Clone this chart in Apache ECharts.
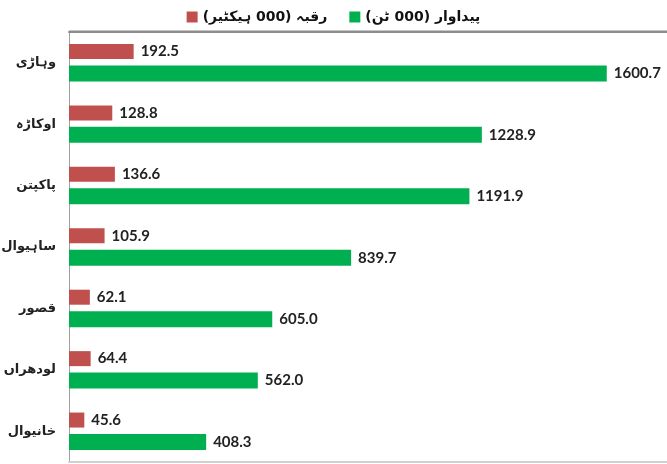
<!DOCTYPE html>
<html>
<head>
<meta charset="utf-8">
<script src="https://cdn.jsdelivr.net/npm/echarts@6/dist/echarts.min.js"></script>
<style>
  html, body { margin: 0; padding: 0; background: #fff; }
  #main { width: 667px; height: 464px; }
</style>
</head>
<body>
<div id="main"></div>
<script>
// اضلاع (اوپر سے نیچے)
var districts = ['وہاڑی', 'اوکاڑہ', 'پاکپتن', 'ساہیوال', 'قصور', 'لودھراں', 'خانیوال'];
var areaName = 'رقبہ (000 ہیکٹیر)';
var prodName = 'پیداوار (000 ٹن)';
var areaValues = [192.5, 128.8, 136.6, 105.9, 62.1, 64.4, 45.6];
var prodValues = [1600.7, 1228.9, 1191.9, 839.7, 605.0, 562.0, 408.3];

var chart = echarts.init(document.getElementById('main'));

var labelStyle = {
    show: true,
    position: 'right',
    distance: 7,
    color: '#222',
    fontFamily: 'Lato, "Open Sans", sans-serif',
    fontWeight: 'bold',
    fontSize: 15,
    formatter: function (p) { return p.value.toFixed(1); }
};

chart.setOption({
    animation: false,
    legend: {
        top: 5,
        left: 'center',
        icon: 'rect',
        itemWidth: 11,
        itemHeight: 11,
        itemGap: 22,
        data: [areaName, prodName],
        textStyle: {
            fontFamily: '"DejaVu Sans", sans-serif',
            fontWeight: 'bold',
            fontSize: 14,
            color: '#111'
        }
    },
    grid: { left: 69, right: 0, top: 32, bottom: 2, outerBoundsMode: 'none', containLabel: false },
    // اوپر والا خط
    graphic: {
        elements: [{
            type: 'line',
            z: 100,
            shape: { x1: 69, y1: 31.5, x2: 667, y2: 31.5 },
            style: { stroke: '#8c8c8c', lineWidth: 2 }
        }]
    },
    xAxis: [{
        type: 'value',
        min: 0,
        max: 1780,
        position: 'bottom',
        splitLine: { show: false },
        axisLabel: { show: false },
        axisTick: { show: false },
        axisLine: { show: true, onZero: false, lineStyle: { color: '#d0d0d0', width: 2 } }
    }, {
        type: 'value',
        min: 0,
        max: 1780,
        position: 'top',
        splitLine: { show: false },
        axisLabel: { show: false },
        axisTick: { show: false },
        axisLine: { show: true, onZero: false, lineStyle: { color: '#8c8c8c', width: 2 } }
    }],
    yAxis: {
        type: 'category',
        inverse: true,
        data: districts,
        axisTick: { show: false },
        axisLine: { show: true, lineStyle: { color: '#a0a0a0', width: 1 } },
        axisLabel: {
            margin: 13,
            color: '#222',
            fontFamily: '"DejaVu Sans", sans-serif',
            fontWeight: 'bold',
            fontSize: 13
        }
    },
    series: [{
        name: areaName,
        type: 'bar',
        data: areaValues,
        barWidth: 15,
        barGap: '43%',
        itemStyle: { color: '#C0504D' },
        label: labelStyle
    }, {
        name: prodName,
        type: 'bar',
        data: prodValues,
        barWidth: 16,
        itemStyle: { color: '#00B050' },
        label: labelStyle
    }]
});
</script>
</body>
</html>
